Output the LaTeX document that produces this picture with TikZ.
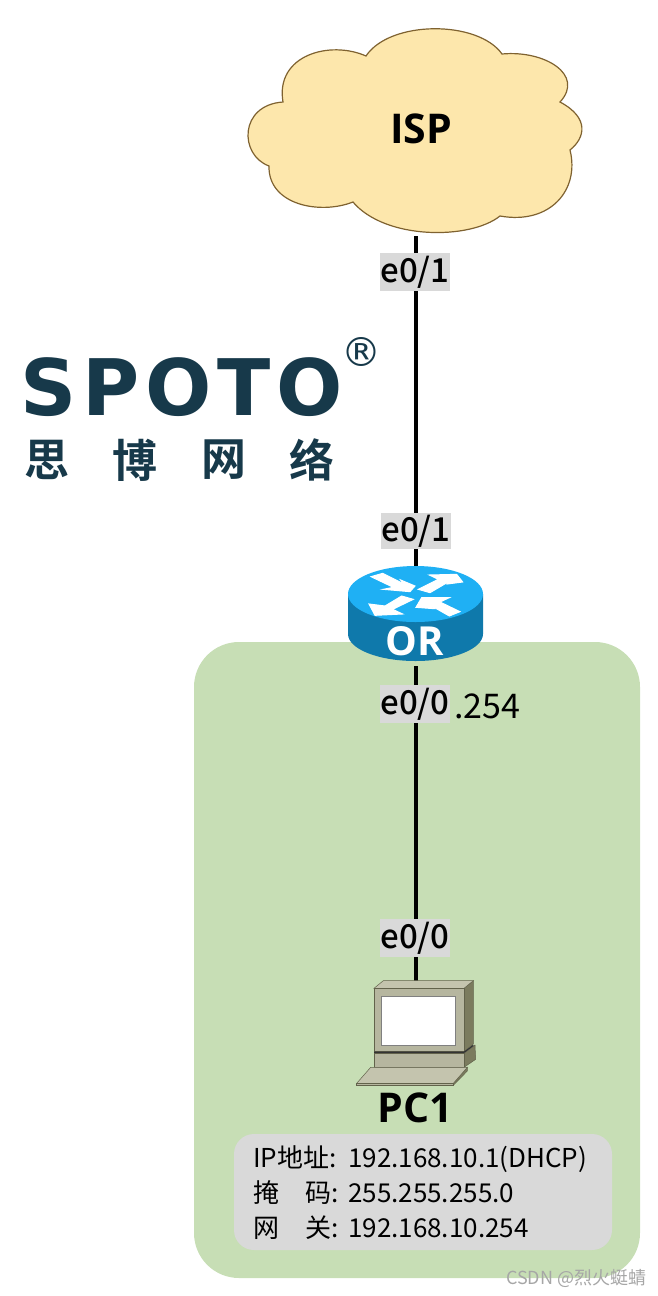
\documentclass[tikz,border=0pt]{standalone}
\usepackage{fontspec}
\setmainfont{Noto Sans CJK SC}
\newfontfamily\labelfont{Noto Sans CJK SC Medium}
\newfontfamily\namefont{Open Sans Bold}
\newfontfamily\logofont[LetterSpace=7.5]{DejaVu Sans Bold}
\newfontfamily\logocjk{Noto Sans CJK SC Bold}
\definecolor{cloudfill}{HTML}{FDE7AC}
\definecolor{cloudline}{HTML}{7F6230}
\definecolor{zonegreen}{HTML}{C7DEB5}
\definecolor{boxgray}{HTML}{D9D9D9}
\definecolor{logoblue}{HTML}{17394A}
\definecolor{routertop}{HTML}{1FB0F4}
\definecolor{routerside}{HTML}{0F79AB}
\definecolor{pcfront}{HTML}{B6B69F}
\definecolor{pctop}{HTML}{C4C4AE}
\definecolor{pcside}{HTML}{7B7B5E}
\begin{document}
\begin{tikzpicture}[x=1pt,y=-1pt,
    link/.style={line width=3.6pt,black},
    port/.style={fill=boxgray,inner sep=0pt,minimum width=70pt,minimum height=38pt,text=black,font=\labelfont\fontsize{33}{33}\selectfont},
    devname/.style={inner sep=0pt,font=\namefont\fontsize{41}{41}\selectfont},
    logochar/.style={inner sep=0pt,text=logoblue,font=\logocjk\fontsize{45}{45}\selectfont},
    arrowshape/.style={fill=white,draw=white,line width=1pt},
    pcpart/.style={draw=pcside!80!black,line width=0.5pt}]
\clip (0,0) rectangle (658,1296);
% zone
\fill[zonegreen,rounded corners=45pt] (194,642) rectangle (640,1278);
\fill[boxgray,rounded corners=20pt] (234,1134) rectangle (612,1250);
% anchors of the links
\coordinate (ISPb) at (416,236);
\coordinate (ORc) at (416,600);
\coordinate (ORb) at (416,666);
\coordinate (PC1t) at (416,983);
\draw[link] (ISPb) -- (ORc);
\draw[link] (ORb) -- (PC1t);
% cloud
\draw[fill=cloudfill,draw=cloudline,line width=1.2pt]
  (366,56) .. controls (390,20) and (478,20) .. (502,54)
  .. controls (545,50) and (585,75) .. (560,102)
  .. controls (590,118) and (585,138) .. (570,150)
  .. controls (580,190) and (550,225) .. (500,216)
  .. controls (470,240) and (385,240) .. (353,202)
  .. controls (320,215) and (268,205) .. (269,166)
  .. controls (239,155) and (239,105) .. (283,102)
  .. controls (275,55) and (330,40) .. (366,56) -- cycle;
\node[devname] (ISP) at (421,129) {ISP};
% router
\fill[routerside] (348,594) -- (348,634) arc[start angle=180,end angle=360,x radius=67.5,y radius=-27] -- (483,594) -- cycle;
\fill[routertop] (415.5,594) ellipse[x radius=67.5,y radius=28];
\scope[shift={(330,510)},scale=0.3333]
\fill[arrowshape] (123,200) -- (158,190) -- (222,222) -- (212,210) -- (255,228) -- (240,245) -- (160,238) -- (190,232) -- cycle;
\fill[arrowshape] (265,238) -- (325,208) -- (298,195) -- (380,193) -- (398,216) -- (352,222) -- (358,214) -- (300,248) -- cycle;
\fill[arrowshape] (215,258) -- (250,268) -- (188,298) -- (218,312) -- (135,316) -- (117,282) -- (165,288) -- cycle;
\fill[arrowshape] (390,305) -- (358,318) -- (300,285) -- (312,296) -- (258,292) -- (275,263) -- (358,263) -- (330,276) -- cycle;
\endscope
\node[devname,text=white,font=\namefont\fontsize{40}{40}\selectfont] (OR) at (415,641) {OR};
% pc
\scope[shift={(340,970)},scale=0.3333]
\filldraw[pcpart,fill=pcside] (372,55) -- (400,32) -- (400,222) -- (372,245) -- cycle;
\filldraw[pcpart,fill=pctop] (102,55) -- (130,32) -- (400,32) -- (372,55) -- cycle;
\filldraw[pcpart,fill=pcfront] (102,55) rectangle (372,245);
\filldraw[draw=gray,line width=1pt,fill=white] (125,80) rectangle (347,225);
\filldraw[pcpart,fill=pcside] (372,250) -- (405,225) -- (407,268) -- (372,292) -- cycle;
\filldraw[pcpart,fill=pcfront] (102,250) rectangle (372,292);
\draw[black!80,line width=1.2pt] (102,247) -- (372,247) -- (400,226);
\filldraw[pcpart,fill=pcside] (340,346) -- (382,303) -- (382,292) -- (340,340) -- cycle;
\filldraw[pcpart,fill=pctop] (50,340) -- (92,292) -- (382,292) -- (340,340) -- cycle;
\filldraw[pcpart,fill=pcfront] (50,340) rectangle (340,346);
\endscope
\node[devname] (PC1) at (415,1108) {PC1};
% ports
\node[port] (ISPport) at (415,272) {e0/1};
\node[port,minimum width=68pt,minimum height=36pt] (ORup) at (416,531) {e0/1};
\node[port] (ORdown) at (415,704) {e0/0};
\node[port] (PC1port) at (415,938) {e0/0};
\node[inner sep=0pt,anchor=west,font=\fontsize{34}{34}\selectfont] (ORip) at (454,706) {.254};
% addresses
\node[inner sep=0pt,anchor=west,align=left,font=\fontsize{26}{35}\selectfont] (PC1info) at (253,1193)
  {\makebox[95pt][l]{IP地址:}192.168.10.1(DHCP)\\
   \makebox[95pt][l]{掩\hspace{26pt}码:}255.255.255.0\\
   \makebox[95pt][l]{网\hspace{26pt}关:}192.168.10.254};
% logo
\node[inner sep=0pt,anchor=west,text=logoblue,font=\logofont\fontsize{78}{78}\selectfont] (logo) at (20,387) {SPOTO};
\node[inner sep=0pt,text=logoblue,font=\fontsize{40}{40}\selectfont] (logoreg) at (361,352) {\fontspec{DejaVu Sans}®};
\node[logochar] (si) at (47,460) {思};
\node[logochar] (bo) at (135,460) {博};
\node[logochar] (wang) at (224,460) {网};
\node[logochar] (luo) at (312,460) {络};
\node[inner sep=0pt,anchor=west,text=gray!70,font=\fontsize{18}{18}\selectfont] (mark) at (506,1278) {CSDN @烈火蜓蜻};
\end{tikzpicture}
\end{document}
